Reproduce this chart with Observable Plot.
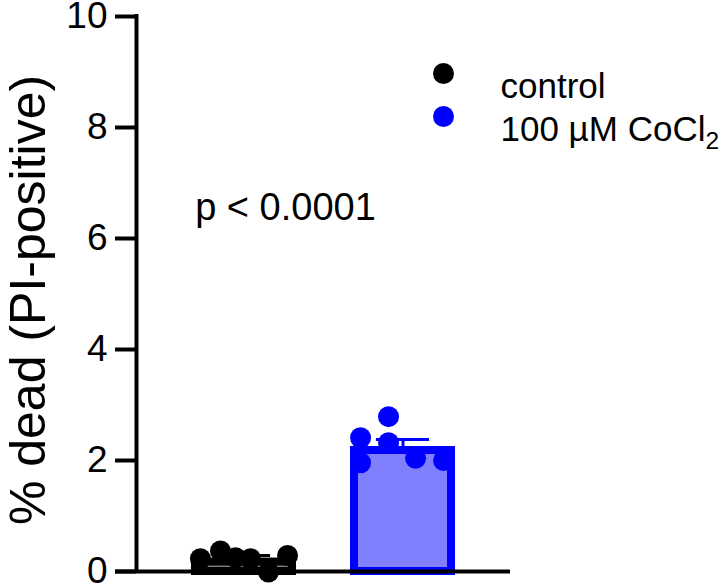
<!DOCTYPE html>
<html>
<head>
<meta charset="utf-8">
<script src="https://cdn.jsdelivr.net/npm/d3@7"></script>
<script src="https://cdn.jsdelivr.net/npm/@observablehq/plot@0.6"></script>
<style>
  html, body { margin: 0; padding: 0; background: #fff; }
  svg { display: block; }
</style>
</head>
<body>
<div id="chart"></div>
<script>
// ---- data ----
const groups = ["control", "100 µM CoCl2"];
const groupPos = [1, 2];
const means = [0.17, 2.18];
const sems = [0.12, 0.20];
const colors = ["#000000", "#0000ff"];
const fills = ["#808080", "#8080ff"];

const controlX = [0.726, 0.852, 0.947, 1.041, 1.154, 1.274];
const controlY = [0.23, 0.37, 0.25, 0.23, -0.01, 0.29];
const cocl2X = [1.733, 1.733, 1.909, 1.909, 2.079, 2.255];
const cocl2Y = [2.41, 1.96, 2.79, 2.32, 2.04, 2.00];

const yTicks = [0, 2, 4, 6, 8, 10];
const yLabel = "% dead (PI-positive)";
const pText = "p < 0.0001";
const xDomain = [0.324, 2.676];
const halfBar = 0.305;
const halfCap = 0.167;

// ---- tables ----
const bars = groups.map((g, i) => ({group: g, x: groupPos[i], mean: means[i], top: means[i] + sems[i], stroke: colors[i], fill: fills[i]}));
const points = [
  ...controlX.map((x, i) => ({x, y: controlY[i], c: colors[0]})),
  ...cocl2X.map((x, i) => ({x, y: cocl2Y[i], c: colors[1]}))
];

const FONT = "Liberation Sans, Arial, Helvetica, sans-serif";

const plot = Plot.plot({
  width: 719,
  height: 586,
  marginLeft: 136,
  marginRight: 209,
  marginTop: 16,
  marginBottom: 15,
  style: {fontFamily: FONT, background: "#fff", overflow: "visible"},
  x: {type: "linear", domain: xDomain, axis: null},
  y: {domain: [0, 10], axis: null},
  marks: [
    // bars
    Plot.rectY(bars, {x1: d => d.x - halfBar, x2: d => d.x + halfBar, y1: 0, y2: "mean", fill: "fill", stroke: "stroke", strokeWidth: 8}),
    // error bars (upward)
    Plot.ruleX(bars, {x: "x", y1: "mean", y2: "top", stroke: "stroke", strokeWidth: 3}),
    Plot.ruleY(bars, {y: "top", x1: d => d.x - halfCap, x2: d => d.x + halfCap, stroke: "stroke", strokeWidth: 3}),
    // points
    Plot.dot(points, {x: "x", y: "y", r: 10.5, fill: "c", stroke: "none"}),
    // axes
    Plot.axisY({ticks: yTicks, tickSize: 21, tickPadding: 8, strokeWidth: 4, fontSize: 37, label: null, tickFormat: d => String(d), fill: "#000"}),
    Plot.ruleX([xDomain[0]], {stroke: "#000", strokeWidth: 4, insetTop: -2}),
    Plot.ruleY([0], {stroke: "#000", strokeWidth: 4, insetLeft: -21}),
    // y label
    Plot.text([yLabel], {text: d => d, frameAnchor: "left", dx: -108, dy: 6, rotate: -90, textAnchor: "middle", fontSize: 50, fill: "#000"}),
    // p-value
    Plot.text([pText], {text: d => d, frameAnchor: "top-left", dx: 149, dy: 177, textAnchor: "middle", fontSize: 38, fill: "#000"}),
    // legend
    Plot.dot([groups[0]], {frameAnchor: "top-left", dx: 307, dy: 57, r: 10.5, fill: colors[0]}),
    Plot.dot([groups[1]], {frameAnchor: "top-left", dx: 307, dy: 100, r: 10.5, fill: colors[1]}),
    Plot.text([groups[0]], {text: d => d, frameAnchor: "top-left", dx: 364, dy: 57, textAnchor: "start", fontSize: 35, fill: "#000"}),
    Plot.text([groups[1]], {text: d => d, frameAnchor: "top-left", dx: 364, dy: 100, textAnchor: "start", fontSize: 35, fill: "#000"})
  ]
});

// subscript the "2" in CoCl2
d3.select(plot).selectAll("text").each(function() {
  if (this.textContent === "100 µM CoCl2") {
    const t = d3.select(this);
    t.text("100 µM CoCl");
    t.append("tspan").attr("dy", "0.3em").attr("font-size", "0.7em").text("2");
  }
});

document.getElementById("chart").appendChild(plot);
</script>
</body>
</html>
